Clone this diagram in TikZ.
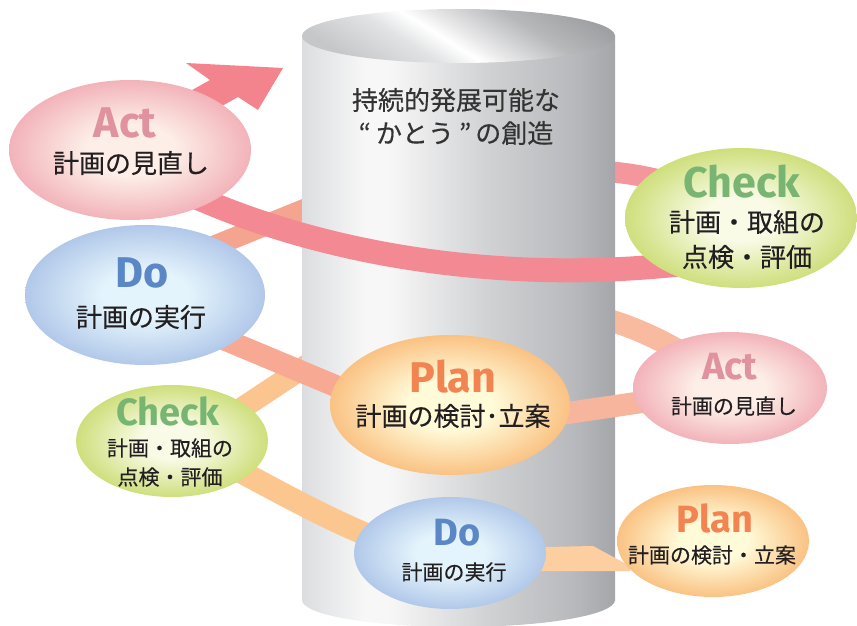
\documentclass[tikz,border=0pt]{standalone}
\usepackage{fontspec}
\usetikzlibrary{shapes.geometric}
\newfontfamily\jp{Noto Sans CJK JP}[FakeBold=0.3]
\newfontfamily\lat{Fira Sans}
% colours
\definecolor{cylA}{HTML}{DCDDE0}
\definecolor{cylB}{HTML}{E4E5E7}
\definecolor{cylC}{HTML}{F7F7F7}
\definecolor{cylD}{HTML}{D0D1D3}
\definecolor{cylE}{HTML}{B9BABD}
\definecolor{cylF}{HTML}{A4A6A9}
\definecolor{capA}{HTML}{C6C7C9}
\definecolor{capB}{HTML}{E2E3E4}
\definecolor{capC}{HTML}{E8E8E9}
\definecolor{capD}{HTML}{B7B8BA}
\definecolor{capE}{HTML}{9FA0A3}
\definecolor{actIn}{HTML}{FDEFE8}
\definecolor{actOut}{HTML}{F2B3B9}
\definecolor{doIn}{HTML}{E4F4FC}
\definecolor{doOut}{HTML}{B1C8E9}
\definecolor{chkIn}{HTML}{F9FBE6}
\definecolor{chkOut}{HTML}{CEDF7C}
\definecolor{plnIn}{HTML}{FFFAD8}
\definecolor{plnOut}{HTML}{FAC283}
\definecolor{actTxt}{HTML}{E0939F}
\definecolor{doTxt}{HTML}{5B87C6}
\definecolor{chkTxt}{HTML}{79B572}
\definecolor{plnTxt}{HTML}{F28452}
\definecolor{jpTxt}{HTML}{231F20}
\definecolor{cylTxt}{HTML}{333333}
\definecolor{bandPink}{HTML}{F38A93}
\definecolor{arrowPink}{HTML}{F3838D}
\definecolor{bandPinkL}{HTML}{F4979C}
\definecolor{bandSalmon}{HTML}{F5A48F}
\definecolor{bandSalmonB}{HTML}{F7A994}
\definecolor{bandPeach}{HTML}{F9BBA0}
\definecolor{bandPeachB}{HTML}{F8B59D}
\definecolor{bandOrange}{HTML}{FCC48F}
\definecolor{bandOrangeB}{HTML}{FCC78F}
\definecolor{bandLight}{HTML}{FDCFA0}
% shadings
\pgfdeclarehorizontalshading{cylbody}{100bp}{color(0bp)=(cylA); color(25bp)=(cylA); color(28bp)=(cylB); color(35bp)=(cylC); color(39bp)=(cylC); color(55bp)=(cylD); color(68bp)=(cylE); color(75bp)=(cylF); color(100bp)=(cylF)}
\pgfdeclarehorizontalshading{capshade}{100bp}{color(0bp)=(capA); color(38bp)=(capA); color(45bp)=(capB); color(48.5bp)=(white); color(51bp)=(capC); color(57bp)=(capD); color(63bp)=(capE); color(100bp)=(capE)}
\pgfdeclareradialshading{actshade}{\pgfpoint{0bp}{0bp}}{color(0bp)=(actIn); color(9bp)=(actIn); color(25bp)=(actOut); color(50bp)=(actOut)}
\pgfdeclareradialshading{doshade}{\pgfpoint{0bp}{0bp}}{color(0bp)=(doIn); color(9bp)=(doIn); color(25bp)=(doOut); color(50bp)=(doOut)}
\pgfdeclareradialshading{chkshade}{\pgfpoint{0bp}{0bp}}{color(0bp)=(chkIn); color(8bp)=(chkIn); color(25bp)=(chkOut); color(50bp)=(chkOut)}
\pgfdeclareradialshading{plnshade}{\pgfpoint{0bp}{0bp}}{color(0bp)=(plnIn); color(9bp)=(plnIn); color(25bp)=(plnOut); color(50bp)=(plnOut)}
\tikzset{
  band/.style={line width=22pt, line cap=butt},
  blob/.style={ellipse, inner sep=0pt, shade},
  bigblob/.style={blob, minimum height=140pt},
  smallblob/.style={blob, minimum width=192pt, minimum height=112pt},
  bigword/.style={inner sep=0pt, font=\lat\bfseries\fontsize{43}{43}\selectfont},
  smallword/.style={inner sep=0pt, font=\lat\bfseries\fontsize{38}{38}\selectfont},
  bigjp/.style={inner sep=0pt, text=jpTxt, font=\jp\fontsize{26}{26}\selectfont},
  smalljp/.style={inner sep=0pt, text=jpTxt, font=\jp\fontsize{21}{21}\selectfont},
  cyljp/.style={inner sep=0pt, text=cylTxt, font=\jp\fontsize{26}{26}\selectfont}
}
\begin{document}
\begin{tikzpicture}[x=1pt,y=-1pt]
\useasboundingbox (0,0) rectangle (857,626);
% ellipse centres
\coordinate (cActA) at (130,150);
\coordinate (cDoA) at (145,295);
\coordinate (cChkA) at (741,218);
\coordinate (cPlnA) at (450,405);
\coordinate (cActB) at (730,388);
\coordinate (cChkB) at (172,441);
\coordinate (cDoB) at (450,553);
\coordinate (cPlnB) at (713,541);
% band way points
\coordinate (b1a) at (175,262);
\coordinate (b1b) at (330,199);
\coordinate (b1c) at (600,171);
\coordinate (b2a) at (200,436);
\coordinate (b2b) at (330,350);
\coordinate (b2c) at (595,316);
\coordinate (f1a) at (180,190);
\coordinate (f1b) at (700,262);
\coordinate (f2a) at (190,325);
\coordinate (f2b) at (400,413);
\coordinate (f3a) at (690,395);
\coordinate (f3b) at (520,420);
\coordinate (f4a) at (400,548);
\coordinate (f4b) at (200,450);
% bands behind the cylinder
\draw[band, line width=21pt, bandSalmon] (b1a) -- (b1b);
\draw[band, line width=21pt, bandPinkL] (b1c) .. controls (660,175) and (700,190) .. (cChkA);
\draw[band, bandOrange] (b2a) -- (b2b);
\draw[band, bandPeach] (b2c) .. controls (650,330) and (700,360) .. (cActB);
% cylinder
\shade[shading=cylbody] (302,36) rectangle (615,600);
\shade[shading=cylbody] (458.5,600) ellipse [x radius=156.5pt, y radius=27pt];
\begin{scope}
  \clip (458.5,36) ellipse [x radius=156.5pt, y radius=27pt];
  \shade[shading=capshade, shading angle=58] (298.5,-124) rectangle (618.5,196);
\end{scope}
\node[cyljp] (t1) at (456,100) {持続的発展可能な};
\node[cyljp] (t2) at (456,133) {“\hspace{5pt}かとう\hspace{5pt}”\hspace{4pt}の創造};
% bands in front
\draw[band, line width=24pt, bandPink] (f1a) .. controls (330,260) and (520,285) .. (f1b);
\fill[arrowPink] (160,108) -- (210,80) -- (186,63) -- (283,68) -- (258,110) -- (238,97) -- (190,124) -- cycle;
\draw[band, bandSalmonB] (f2a) -- (f2b);
\draw[band, bandPeachB] (f3a) -- (f3b);
\draw[band, line width=23pt, bandOrangeB] (f4a) .. controls (330,522) and (280,492) .. (f4b);
\fill[bandLight] (500,548) -- (593,546) -- (630,566) -- (630,571) -- (500,571) -- cycle;
% ellipses
\node[bigblob, minimum width=242pt, shading=actshade] (actA) at (cActA) {};
\node[bigblob, minimum width=240pt, shading=doshade] (doA) at (cDoA) {};
\node[bigblob, minimum width=232pt, shading=chkshade] (chkA) at (cChkA) {};
\node[bigblob, minimum width=240pt, shading=plnshade] (plnA) at (cPlnA) {};
\node[smallblob, minimum width=194pt, shading=actshade] (actB) at (cActB) {};
\node[smallblob, shading=chkshade] (chkB) at (cChkB) {};
\node[smallblob, shading=doshade] (doB) at (cDoB) {};
\node[smallblob, shading=plnshade] (plnB) at (cPlnB) {};
% texts
\node[bigword, text=actTxt] (actAw) at (125,123) {Act};
\node[bigjp] (actAj) at (131,163) {計画の見直し};
\node[bigword, text=doTxt] (doAw) at (142,273) {Do};
\node[bigjp] (doAj) at (141,317) {計画の実行};
\node[bigword, text=chkTxt] (chkAw) at (742,182) {Check};
\node[bigjp] (chkAj1) at (747,222) {計画・取組の};
\node[bigjp] (chkAj2) at (747,257) {点検・評価};
\node[bigword, text=plnTxt] (plnAw) at (453,377) {Plan};
\node[bigjp] (plnAj) at (453,416) {計画の検討･立案};
\node[smallword, text=actTxt] (actBw) at (730,367) {Act};
\node[smalljp] (actBj) at (734,406) {計画の見直し};
\node[smallword, text=chkTxt] (chkBw) at (168,411) {Check};
\node[smalljp] (chkBj1) at (170,448) {計画・取組の};
\node[smalljp] (chkBj2) at (170,477) {点検・評価};
\node[smallword, text=doTxt] (doBw) at (457,533) {Do};
\node[smalljp] (doBj) at (454,572) {計画の実行};
\node[smallword, text=plnTxt] (plnBw) at (715,518) {Plan};
\node[smalljp] (plnBj) at (712,555) {計画の検討・立案};
\end{tikzpicture}
\end{document}
